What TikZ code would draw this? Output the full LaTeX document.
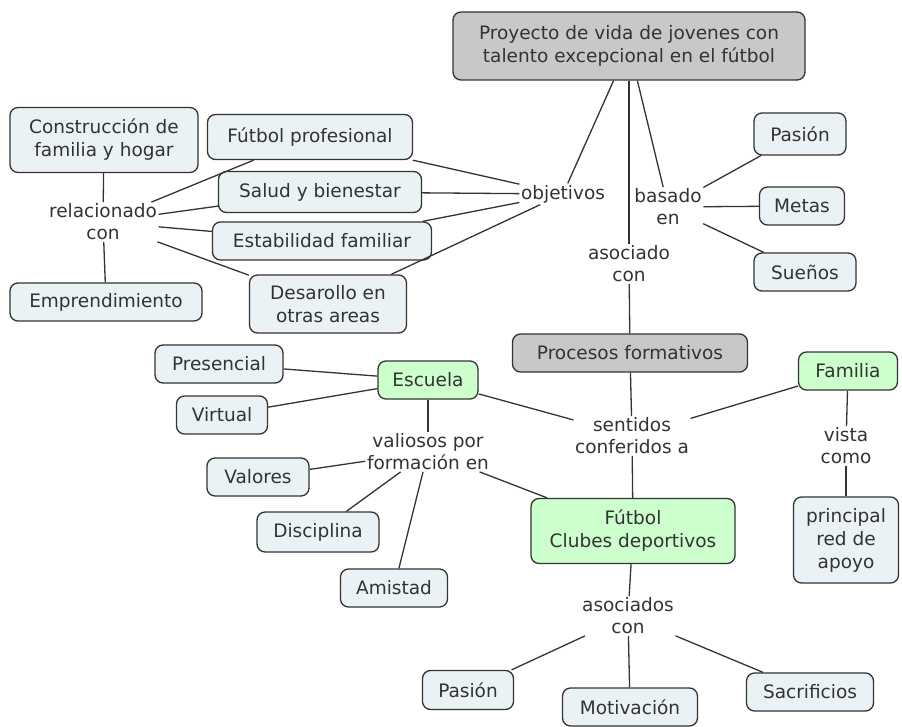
\documentclass[tikz,border=0pt]{standalone}
\usepackage{fontspec}
\newfontfamily\mapfont{DejaVu Sans}
\usetikzlibrary{positioning}
\definecolor{boxgray}{RGB}{200,200,200}
\definecolor{boxgreen}{RGB}{204,255,204}
\definecolor{boxblue}{RGB}{235,242,245}
\definecolor{inkgray}{RGB}{51,51,51}

\begin{document}
\begin{tikzpicture}[
    x=1pt, y=-1pt,
    concept/.style={rectangle, rounded corners=8pt, draw=inkgray, line width=1.3pt, fill=boxblue, text=inkgray, font={\mapfont\fontsize{18.5}{23}\selectfont}, align=center, inner xsep=6pt, minimum height=38pt},
    root/.style={concept, fill=boxgray},
    hub/.style={concept, fill=boxgreen},
    link/.style={text=inkgray, font={\mapfont\fontsize{18.5}{22}\selectfont}, align=center, inner sep=1.5pt},
    line/.style={draw=inkgray, line width=1.3pt}
]
    \useasboundingbox (0,0) rectangle (902,727);

    % Main concepts
    \node[root, minimum width=352pt, minimum height=68pt] (proyecto) at (629,46) {Proyecto de vida de jovenes con\\talento excepcional en el fútbol};
    \node[root, minimum width=235pt] (procesos) at (630,353) {Procesos formativos};

    % Objetivos
    \node[link] (objetivos) at (563,194) {objetivos};
    \node[concept, minimum width=205pt, minimum height=45pt] (profesional) at (310,137) {Fútbol profesional};
    \node[concept, minimum width=203pt, minimum height=41pt] (salud) at (320,192) {Salud y bienestar};
    \node[concept, minimum width=219pt] (estabilidad) at (322,241) {Estabilidad familiar};
    \node[concept, minimum width=157pt, minimum height=58pt] (desarollo) at (328,304) {Desarollo en\\otras areas};

    \node[link] (relacionado) at (103,222) {relacionado\\con};
    \node[concept, minimum width=188pt, minimum height=65pt] (construccion) at (104,140) {Construcción de\\familia y hogar};
    \node[concept, minimum width=192pt] (emprendimiento) at (106,302) {Emprendimiento};

    % Basado en
    \node[link] (basado) at (668,207) {basado\\en};
    \node[concept, minimum width=92pt, minimum height=42pt] (pasion_top) at (800,134) {Pasión};
    \node[concept, minimum width=85pt] (metas) at (802,206) {Metas};
    \node[concept, minimum width=102pt] (suenos) at (805,272) {Sueños};

    \node[link] (asociado) at (629,264) {asociado\\con};

    % Sentidos conferidos
    \node[link] (sentidos) at (632,436) {sentidos\\conferidos a};
    \node[hub, minimum width=100pt] (escuela) at (428,380) {Escuela};
    \node[hub, minimum width=99pt] (familia) at (848,371) {Familia};
    \node[hub, minimum width=204pt, minimum height=65pt] (clubes) at (633,531) {Fútbol\\Clubes deportivos};

    \node[concept, minimum width=128pt] (presencial) at (219,364) {Presencial};
    \node[concept, minimum width=91pt] (virtual) at (222,415) {Virtual};

    \node[link] (valiosos) at (428,452) {valiosos por\\formación en};
    \node[concept, minimum width=102pt] (valores) at (258,477) {Valores};
    \node[concept, minimum width=122pt, minimum height=40pt] (disciplina) at (318,532) {Disciplina};
    \node[concept, minimum width=107pt] (amistad) at (394,588) {Amistad};

    \node[link] (vista) at (846,446) {vista\\como};
    \node[concept, minimum width=105pt, minimum height=86pt] (apoyo) at (846,540) {principal\\red de\\apoyo};

    \node[link] (asociados) at (628,616) {asociados\\con};
    \node[concept, minimum width=91pt, minimum height=39pt] (pasion_bot) at (468,690) {Pasión};
    \node[concept, minimum width=135pt] (motivacion) at (630,707) {Motivación};
    \node[concept, minimum width=127pt] (sacrificios) at (810,692) {Sacrificios};

    % Links
    \draw[line] (proyecto) -- (objetivos);
    \draw[line] (proyecto) -- (asociado);
    \draw[line] (proyecto) -- (basado);
    \draw[line] (profesional) -- (objetivos);
    \draw[line] (salud) -- (objetivos);
    \draw[line] (estabilidad) -- (objetivos);
    \draw[line] (desarollo) -- (objetivos);

    \draw[line] (construccion) -- (relacionado);
    \draw[line] (relacionado) -- (emprendimiento);
    \draw[line] (relacionado) -- (profesional);
    \draw[line] (relacionado) -- (salud);
    \draw[line] (relacionado) -- (estabilidad);
    \draw[line] (relacionado) -- (desarollo);

    \draw[line] (basado) -- (pasion_top);
    \draw[line] (basado) -- (metas);
    \draw[line] (basado) -- (suenos);

    \draw[line] (asociado) -- (procesos);
    \draw[line] (procesos) -- (sentidos);
    \draw[line] (escuela) -- (sentidos);
    \draw[line] (familia) -- (sentidos);
    \draw[line] (sentidos) -- (clubes);

    \draw[line] (presencial) -- (escuela);
    \draw[line] (virtual) -- (escuela);
    \draw[line] (escuela) -- (valiosos);
    \draw[line] (valiosos) -- (valores);
    \draw[line] (valiosos) -- (disciplina);
    \draw[line] (valiosos) -- (amistad);
    \draw[line] (valiosos) -- (clubes);

    \draw[line] (familia) -- (vista);
    \draw[line] (vista) -- (apoyo);

    \draw[line] (clubes) -- (asociados);
    \draw[line] (asociados) -- (pasion_bot);
    \draw[line] (asociados) -- (motivacion);
    \draw[line] (asociados) -- (sacrificios);

\end{tikzpicture}
\end{document}
